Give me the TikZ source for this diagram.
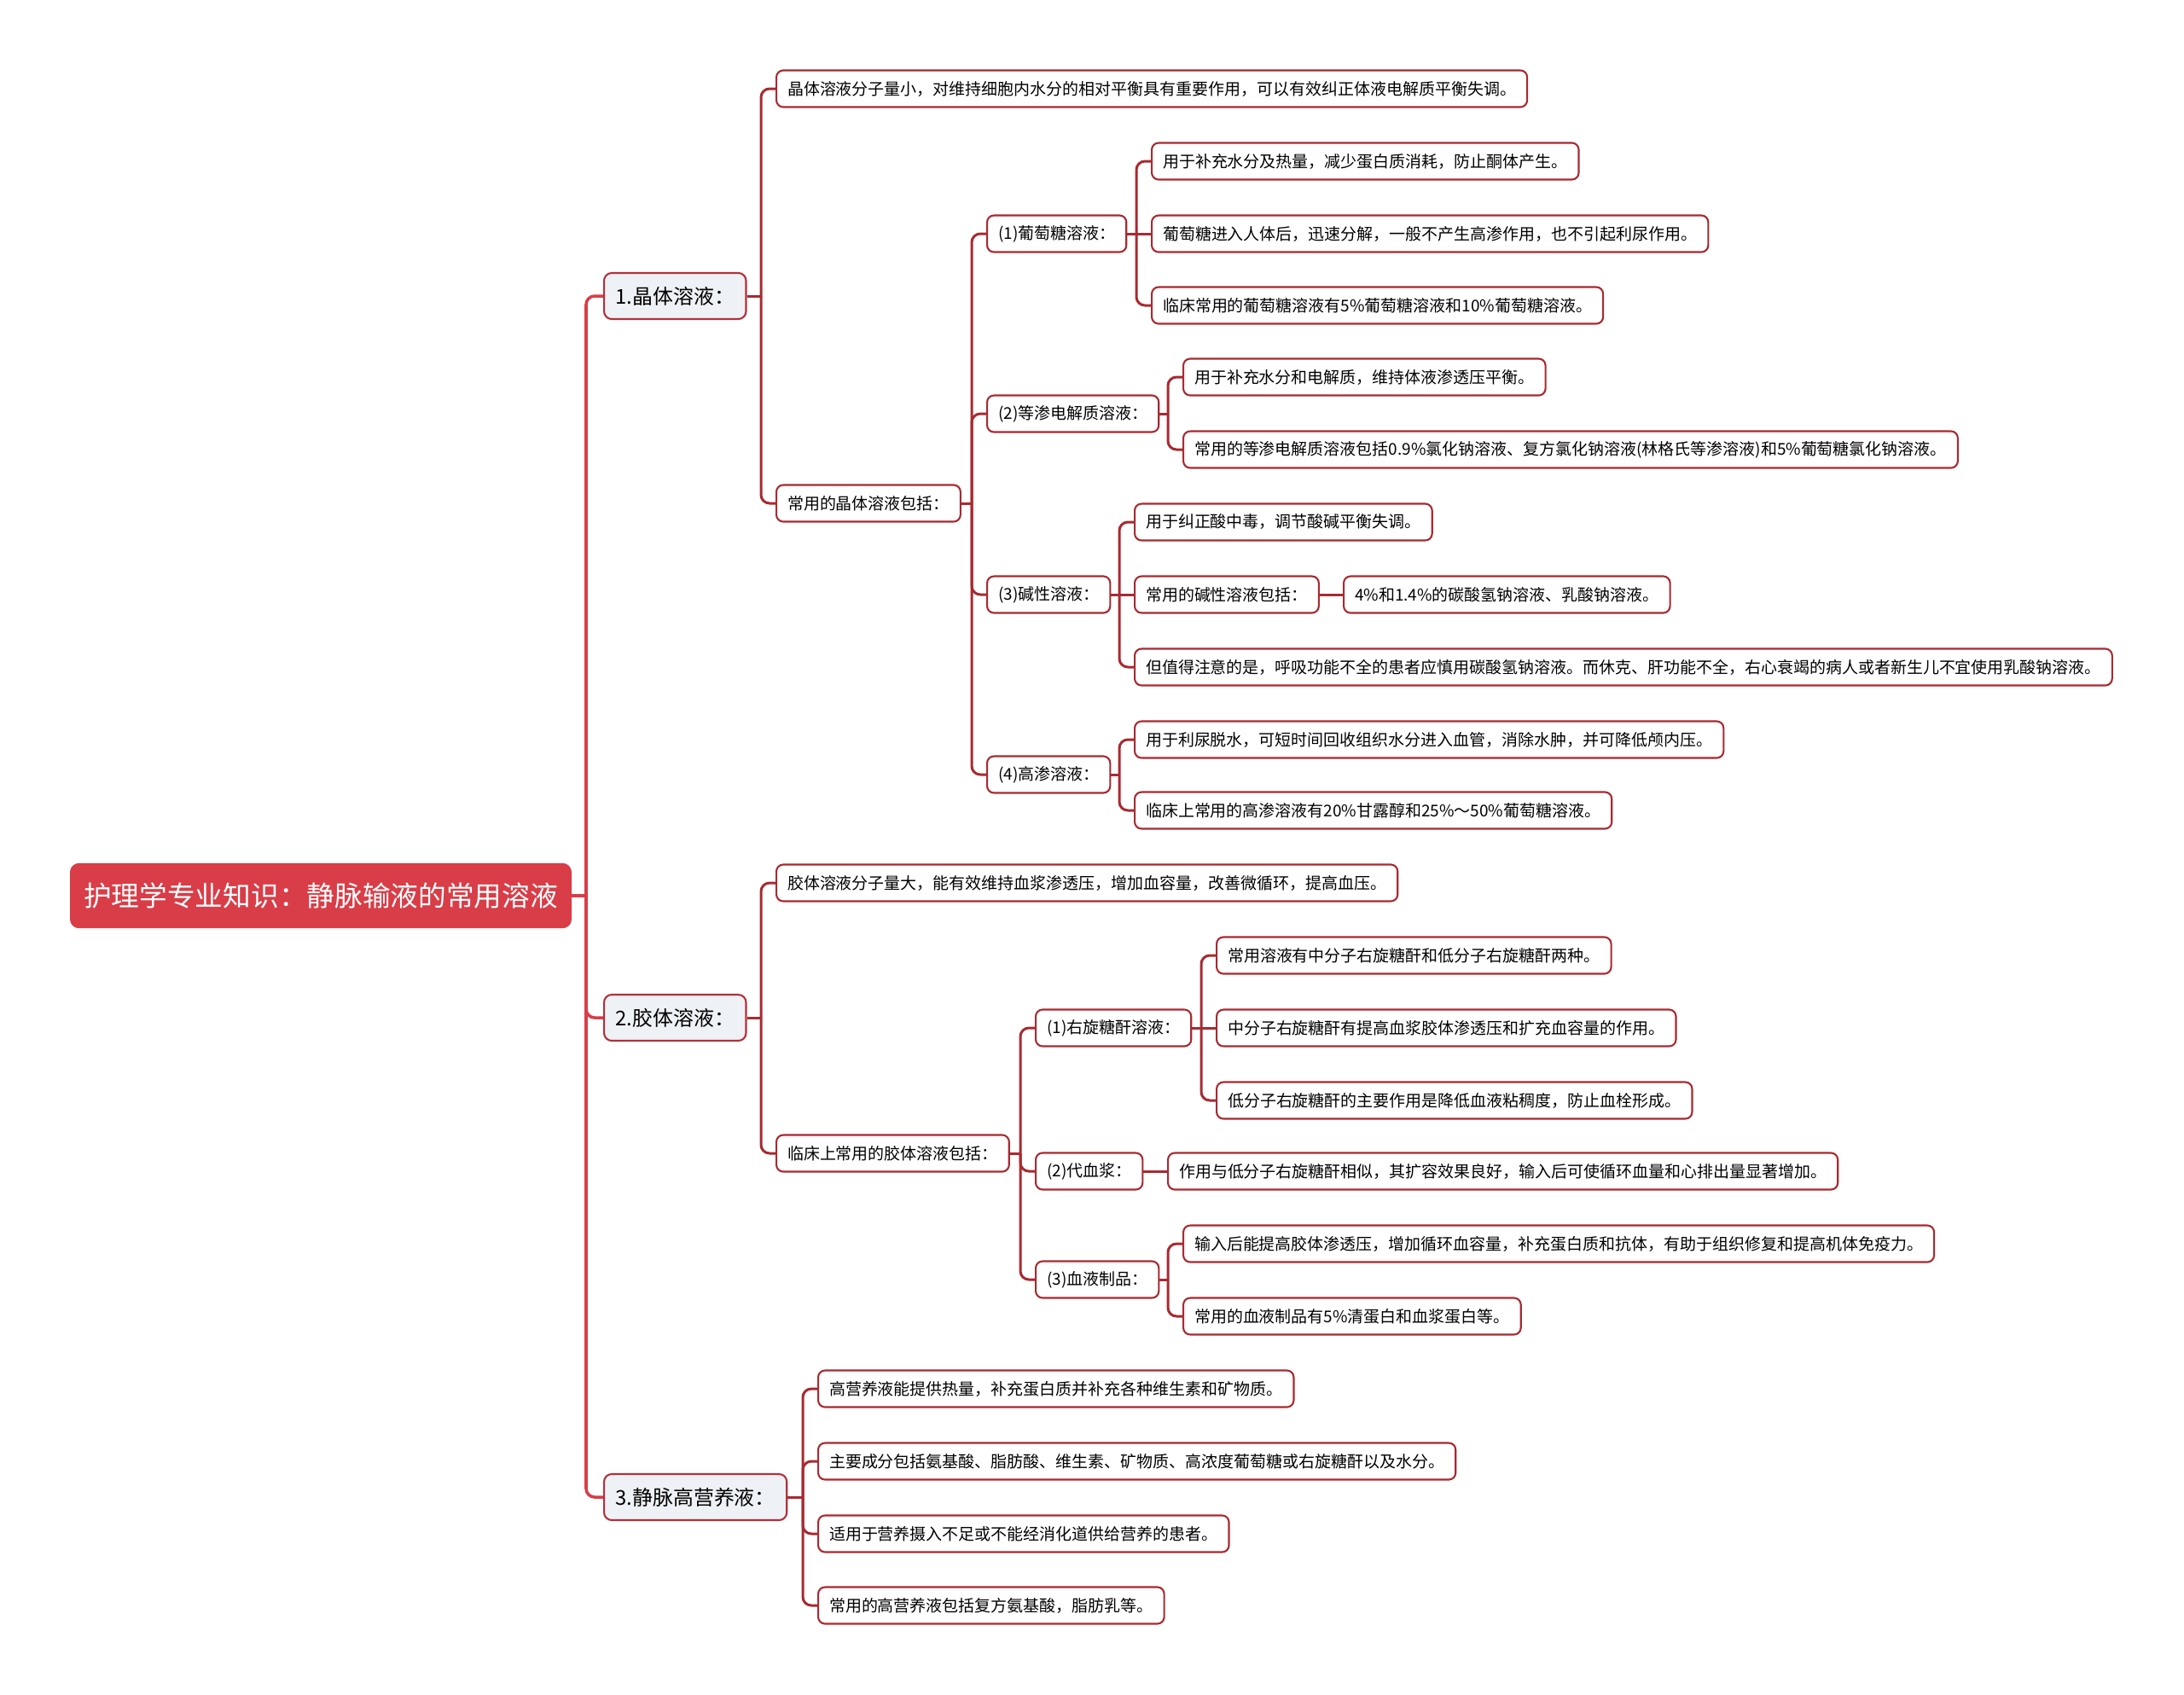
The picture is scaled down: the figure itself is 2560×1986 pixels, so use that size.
\documentclass[tikz,border=0pt]{standalone}
\usepackage{fontspec}
\newfontfamily\cjk{Noto Sans CJK SC}
\usepackage{tikz}
\usetikzlibrary{calc}
\definecolor{rootred}{HTML}{D93D47}
\definecolor{linkred}{HTML}{A82A31}
\definecolor{boxred}{HTML}{B3303A}
\definecolor{topgray}{HTML}{EEF1F5}
\tikzset{
    rootbox/.style={fill=rootred, draw=rootred, text=white, rounded corners=1mm,
        font=\cjk\fontsize{9.3}{11}\selectfont, inner xsep=1.55mm, inner ysep=0pt,
        minimum height=7.5mm, anchor=west},
    topbox/.style={fill=topgray, draw=boxred, line width=0.6pt, rounded corners=0.9mm,
        font=\cjk\fontsize{6.8}{8}\selectfont, inner xsep=1.35mm, inner ysep=0pt,
        minimum height=5.4mm, anchor=west},
    leaf/.style={fill=white, draw=linkred, line width=0.6pt, rounded corners=0.8mm,
        font=\cjk\fontsize{5.4}{6.5}\selectfont, inner xsep=1.3mm, inner ysep=0pt,
        minimum height=4.3mm, anchor=west},
    trunk/.style={draw=rootred, line width=1pt},
    link/.style={draw=linkred, line width=0.85pt},
}

\begin{document}
\begin{tikzpicture}[x=0.1mm, y=-0.1mm]
    \useasboundingbox (0,0) rectangle (2560,1986);
    \node[rootbox] (root) at (82,1050) {护理学专业知识：静脉输液的常用溶液};

    \node[topbox] (cry) at (707,347) {1.晶体溶液：};
    \node[topbox] (col) at (707,1193) {2.胶体溶液：};
    \node[topbox] (tpn) at (707,1755) {3.静脉高营养液：};

    \node[leaf] (cry1) at (909,104) {晶体溶液分子量小，对维持细胞内水分的相对平衡具有重要作用，可以有效纠正体液电解质平衡失调。};
    \node[leaf] (cry2) at (909,590) {常用的晶体溶液包括：};
    \node[leaf] (glu) at (1156,274) {(1)葡萄糖溶液：};
    \node[leaf] (iso) at (1156,485) {(2)等渗电解质溶液：};
    \node[leaf] (alk) at (1156,697) {(3)碱性溶液：};
    \node[leaf] (hyp) at (1156,908) {(4)高渗溶液：};
    \node[leaf] (glu1) at (1349,189) {用于补充水分及热量，减少蛋白质消耗，防止酮体产生。};
    \node[leaf] (glu2) at (1349,274) {葡萄糖进入人体后，迅速分解，一般不产生高渗作用，也不引起利尿作用。};
    \node[leaf] (glu3) at (1349,358) {临床常用的葡萄糖溶液有5\%葡萄糖溶液和10\%葡萄糖溶液。};
    \node[leaf] (iso1) at (1386,442) {用于补充水分和电解质，维持体液渗透压平衡。};
    \node[leaf] (iso2) at (1386,527) {常用的等渗电解质溶液包括0.9\%氯化钠溶液、复方氯化钠溶液(林格氏等渗溶液)和5\%葡萄糖氯化钠溶液。};
    \node[leaf] (alk1) at (1329,612) {用于纠正酸中毒，调节酸碱平衡失调。};
    \node[leaf] (alk2) at (1329,697) {常用的碱性溶液包括：};
    \node[leaf] (alk2a) at (1574,697) {4\%和1.4\%的碳酸氢钠溶液、乳酸钠溶液。};
    \node[leaf] (alk3) at (1329,782) {但值得注意的是，呼吸功能不全的患者应慎用碳酸氢钠溶液。而休克、肝功能不全，右心衰竭的病人或者新生儿不宜使用乳酸钠溶液。};
    \node[leaf] (hyp1) at (1329,867) {用于利尿脱水，可短时间回收组织水分进入血管，消除水肿，并可降低颅内压。};
    \node[leaf] (hyp2) at (1329,950) {临床上常用的高渗溶液有20\%甘露醇和25\%～50\%葡萄糖溶液。};

    \node[leaf] (col1) at (909,1035) {胶体溶液分子量大，能有效维持血浆渗透压，增加血容量，改善微循环，提高血压。};
    \node[leaf] (col2) at (909,1352) {临床上常用的胶体溶液包括：};
    \node[leaf] (dex) at (1213,1205) {(1)右旋糖酐溶液：};
    \node[leaf] (pla) at (1213,1373) {(2)代血浆：};
    \node[leaf] (blo) at (1213,1500) {(3)血液制品：};
    \node[leaf] (dex1) at (1425,1120) {常用溶液有中分子右旋糖酐和低分子右旋糖酐两种。};
    \node[leaf] (dex2) at (1425,1205) {中分子右旋糖酐有提高血浆胶体渗透压和扩充血容量的作用。};
    \node[leaf] (dex3) at (1425,1290) {低分子右旋糖酐的主要作用是降低血液粘稠度，防止血栓形成。};
    \node[leaf] (pla1) at (1368,1373) {作用与低分子右旋糖酐相似，其扩容效果良好，输入后可使循环血量和心排出量显著增加。};
    \node[leaf] (blo1) at (1386,1458) {输入后能提高胶体渗透压，增加循环血容量，补充蛋白质和抗体，有助于组织修复和提高机体免疫力。};
    \node[leaf] (blo2) at (1386,1543) {常用的血液制品有5\%清蛋白和血浆蛋白等。};

    \node[leaf] (tpn1) at (958,1628) {高营养液能提供热量，补充蛋白质并补充各种维生素和矿物质。};
    \node[leaf] (tpn2) at (958,1713) {主要成分包括氨基酸、脂肪酸、维生素、矿物质、高浓度葡萄糖或右旋糖酐以及水分。};
    \node[leaf] (tpn3) at (958,1798) {适用于营养摄入不足或不能经消化道供给营养的患者。};
    \node[leaf] (tpn4) at (958,1882) {常用的高营养液包括复方氨基酸，脂肪乳等。};

    \foreach \c in {cry,col,tpn} {
        \draw[trunk] (root.east) -- ($(root.east -| \c.west)+(-20,0)$);
        \draw[trunk, rounded corners=1mm] ($(root.east -| \c.west)+(-20,0)$) |- (\c.west);
    }
    \foreach \p/\c in {cry/cry1,cry/cry2,cry2/glu,cry2/iso,cry2/alk,cry2/hyp,
        glu/glu1,glu/glu3,iso/iso1,iso/iso2,alk/alk1,alk/alk3,
        hyp/hyp1,hyp/hyp2,col/col1,col/col2,col2/dex,col2/pla,col2/blo,
        dex/dex1,dex/dex3,blo/blo1,blo/blo2,
        tpn/tpn1,tpn/tpn2,tpn/tpn3,tpn/tpn4} {
        \draw[link] (\p.east) -- ($(\p.east -| \c.west)+(-17,0)$);
        \draw[link, rounded corners=1mm] ($(\p.east -| \c.west)+(-17,0)$) |- (\c.west);
    }
    \foreach \p/\c in {glu/glu2,alk/alk2,alk2/alk2a,dex/dex2,pla/pla1}
        \draw[link] (\p.east) -- (\c.west);
\end{tikzpicture}
\end{document}
